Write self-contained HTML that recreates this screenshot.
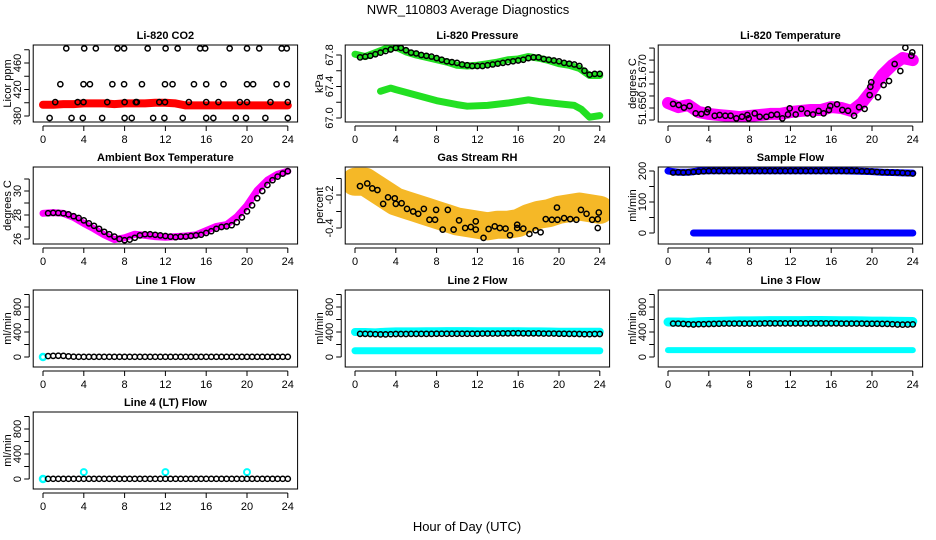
<!DOCTYPE html>
<html><head><meta charset="utf-8">
<style>
html,body{margin:0;padding:0;background:#fff;}
svg{display:block;font-family:"Liberation Sans",sans-serif;}
.tk{font-size:11px;fill:#000;}
.tt{font-size:11px;font-weight:bold;fill:#000;}
</style></head>
<body>
<svg id="chart" width="936" height="540" viewBox="0 0 936 540" xmlns="http://www.w3.org/2000/svg">
<rect width="936" height="540" fill="#fff"/>
<text x="468" y="14" text-anchor="middle" font-size="13">NWR_110803  Average Diagnostics</text>
<text x="467" y="531" text-anchor="middle" font-size="13">Hour of Day (UTC)</text>
</svg>
<script>
// ---------- data ----------
const xTicks=[0,4,8,12,16,20,24];
const hours25=[0,1,2,3,4,5,6,7,8,9,10,11,12,13,14,15,16,17,18,19,20,21,22,23,24];

// CO2
const co2Band=[397,397,398,398,399,399,399,398,399,399,399,400,400,399,396,396,396,396,396,396,396,396,396,396,396];
const co2HighX=[2.28,4.04,5.18,7.3,7.95,10.26,12.02,13.2,15.4,15.9,18.3,20.0,21.2,23.4,23.9];
const co2MidX=[1.7,3.97,4.6,6.8,7.95,9.7,11.96,12.7,14.8,16.0,17.7,20.0,20.6,22.9,23.9];
const co2LowX=[1.2,3.4,3.97,6.3,8.0,9.1,9.2,11.4,11.96,14.3,16.0,17.2,19.3,20.0,22.3,24];
const co2BotX=[0.65,2.8,3.9,5.8,8.0,8.7,10.8,11.9,13.7,16.0,16.7,18.9,19.9,21.8,24];
const co2Levels=[482,428,401,377];

// Pressure
const presUpper=[67.81,67.78,67.83,67.88,67.90,67.84,67.80,67.77,67.74,67.71,67.67,67.66,67.67,67.69,67.71,67.74,67.75,67.78,67.76,67.73,67.69,67.67,67.63,67.54,67.54];
const presLowerX=[2.5,3.5,4,6,8,10,11,13,15,17,18,20,21.5,22.2,23,24];
const presLower=[67.34,67.38,67.36,67.29,67.22,67.17,67.15,67.16,67.19,67.23,67.21,67.18,67.16,67.11,67.01,67.03];
const presPts=[67.77,67.78,67.79,67.81,67.83,67.85,67.87,67.89,67.89,67.86,67.83,67.82,67.80,67.79,67.78,67.76,67.74,67.72,67.71,67.70,67.68,67.67,67.66,67.66,67.66,67.67,67.68,67.69,67.70,67.71,67.72,67.73,67.74,67.76,67.77,67.77,67.75,67.74,67.73,67.72,67.70,67.69,67.68,67.66,67.60,67.55,67.56,67.56];

// Li-820 temperature
const ltBand=[51.6527,51.6505,51.6516,51.6478,51.6468,51.6462,51.6457,51.6451,51.6457,51.6462,51.6468,51.6468,51.6478,51.6484,51.6489,51.6489,51.6505,51.6500,51.6484,51.6527,51.6597,51.6678,51.6732,51.6770,51.6759];
const ltPtsX=[0.5,1.05,1.57,2.12,2.71,3.27,3.82,3.92,4.58,5.06,5.62,6.14,6.70,7.25,7.78,7.91,8.5,8.99,9.64,10.13,10.69,11.21,11.76,11.93,12.52,13.07,13.66,14.22,14.77,15.26,15.78,15.91,16.57,17.09,17.65,18.24,18.73,19.28,19.77,19.84,19.93,20.59,21.14,21.67,22.22,22.78,23.27,23.86,23.95];
const ltPts=[51.6522,51.6516,51.6502,51.6511,51.6471,51.6468,51.6477,51.6493,51.6458,51.6462,51.6458,51.6458,51.6444,51.6453,51.6462,51.6444,51.6471,51.6453,51.6453,51.6462,51.6465,51.6444,51.6465,51.6498,51.6465,51.6495,51.6471,51.6465,51.6484,51.6471,51.6489,51.6511,51.6520,51.6489,51.6485,51.6458,51.6504,51.6495,51.6570,51.6615,51.6639,51.6558,51.6624,51.6646,51.6738,51.6700,51.6826,51.6783,51.6801];

// Ambient box temperature
const ambBand=[28.14,28.2,28.14,27.8,27.3,26.85,26.35,25.95,26.1,26.4,26.3,26.2,26.15,26.2,26.25,26.35,26.7,27.05,27.2,27.85,28.8,30.05,30.9,31.4,31.65];
const ambPts=[28.15,28.18,28.17,28.14,28.05,27.9,27.75,27.55,27.3,27.1,26.85,26.6,26.4,26.2,26.0,25.9,25.95,26.1,26.3,26.4,26.4,26.35,26.3,26.25,26.2,26.15,26.2,26.2,26.25,26.3,26.35,26.5,26.65,26.85,27.0,27.05,27.15,27.4,27.8,28.3,28.8,29.4,30.0,30.5,30.9,31.2,31.45,31.65];

// Gas stream RH
const rhBand=[-0.12,-0.12,-0.16,-0.2,-0.24,-0.26,-0.28,-0.3,-0.32,-0.34,-0.36,-0.37,-0.38,-0.39,-0.38,-0.38,-0.37,-0.34,-0.32,-0.31,-0.29,-0.28,-0.27,-0.28,-0.29];
const rhPtsX=[0.49,1.2,1.69,2.2,2.76,3.24,3.9,4.0,4.57,5.1,5.7,6.2,6.75,7.3,7.85,7.95,8.6,9.1,9.67,10.2,10.8,11.35,11.84,11.84,12.6,13.1,13.7,14.2,14.76,15.2,15.9,15.9,16.5,17.1,17.7,18.2,18.7,19.3,19.8,19.85,20.5,21.1,21.7,22.15,22.7,23.25,23.8,23.9,23.8];
const rhPts=[-0.146,-0.13,-0.16,-0.17,-0.254,-0.214,-0.22,-0.254,-0.25,-0.284,-0.3,-0.314,-0.284,-0.35,-0.35,-0.29,-0.41,-0.29,-0.41,-0.354,-0.4,-0.394,-0.36,-0.41,-0.46,-0.406,-0.39,-0.4,-0.404,-0.444,-0.38,-0.4,-0.404,-0.436,-0.414,-0.426,-0.346,-0.35,-0.276,-0.35,-0.34,-0.346,-0.35,-0.29,-0.314,-0.35,-0.346,-0.306,-0.4];

// Sample flow
const sfBand=[200,196,196,200,201,201,201,201,201,201,201,201,201,201,201,201,201,201,200,199,198,196,195,194,193];
const sfLowX=[2.5,24];
const sfLow=[0,0];
const sfPts=[195,196,195,196,197,198,199,200,200,200,200,200,200,200,200,200,200,200,200,200,200,200,200,200,200,200,200,200,200,200,200,200,200,200,200,200,200,199,199,198,197,196,196,195,195,194,193,192];

// Line flows
const l1Pts=[15,18,20,18,10,5,3,3,3,3,3,3,3,3,3,3,3,3,3,3,3,3,3,3,3,3,3,3,3,3,3,3,3,3,3,3,3,3,3,3,3,3,3,3,3,3,3,3];
const l1Cyan=[0];
const l2Upper=[400,400,395,405,410,410,410,412,412,415,415,415,412,412,412,412,412,410,410,408,405,405,405,405,405];
const l2Lower=[100,100,100,100,100,100,100,100,100,100,100,100,100,100,100,100,100,100,100,100,100,100,100,100,100];
const l2Pts=[370,370,368,365,362,362,365,368,368,368,370,370,370,370,370,372,372,372,372,372,372,372,372,372,375,375,375,375,378,378,380,380,378,378,378,378,375,375,375,372,372,370,370,368,365,365,368,368];
const l3Upper=[560,560,555,565,568,570,575,578,578,580,582,582,582,582,585,585,582,580,580,578,575,575,572,570,568];
const l3Lower=[110,110,110,110,110,110,110,110,110,110,110,110,110,110,110,110,110,110,110,110,110,110,110,110,110];
const l3Pts=[535,535,530,525,520,525,525,528,530,532,535,535,535,535,535,535,535,535,538,538,538,538,538,538,538,538,538,538,538,538,538,538,538,535,535,535,535,535,532,532,532,530,530,525,520,518,520,522];
const l4Pts=[3,3,3,3,3,3,3,3,3,3,3,3,3,3,3,3,3,3,3,3,3,3,3,3,3,3,3,3,3,3,3,3,3,3,3,3,3,3,3,3,3,3,3,3,3,3,3,3];
const l4SpikeX=[4,12,20];
const l4Spike=[110,110,110];

// ---------- drawing ----------
const NS='http://www.w3.org/2000/svg';
const svg=document.getElementById('chart');
const X0=[43,355,668];
const XS=10.2;
const rowTop=[45,167,290,412];
const H=77;
function mk(tag,attrs,parent){const e=document.createElementNS(NS,tag);for(const k in attrs)e.setAttribute(k,attrs[k]);(parent||svg).appendChild(e);return e;}
function halfHourX(i){return 0.5+i*0.5;}

function panel(key,col,row,v0,p0,v1,p1,yTicks,yLabels,title,ylab){
  const g=mk('g',{});
  
  
  const X=h=>X0[col]+h*XS;
  const Y=v=>rowTop[row]+p0+(v-v0)*(p1-p0)/(v1-v0);
  const bx=X(-0.96), bw=X(24.96)-X(-0.96), by=rowTop[row];
  const t=mk('text',{x:bx+bw/2,y:by-6,'text-anchor':'middle','class':'tt'},g);
  t.textContent=title;
  
  
  const yl=mk('text',{x:0,y:0,'text-anchor':'middle','font-size':'11',transform:`translate(${bx-22},${by+H/2}) rotate(-90)`},g);
  yl.textContent=ylab;
  
  
  const plot=mk('g',{},g);
  
  
  const axes=mk('g',{},g);
  
  
  const box=mk('rect',{x:bx,y:by,width:bw,height:H,fill:'none',stroke:'#000','stroke-width':1},axes);
  
  
  mk('line',{x1:X(0),x2:X(24),y1:by+H+4,y2:by+H+4,stroke:'#000'},axes);
  xTicks.forEach(h=>{
    mk('line',{x1:X(h),x2:X(h),y1:by+H+4,y2:by+H+9,stroke:'#000'},axes);
    const tx=mk('text',{x:X(h),y:by+H+21,'text-anchor':'middle','class':'tk'},axes);
    tx.textContent=String(h);
    
    
  });
  const ya=bx-4;
  mk('line',{x1:ya,x2:ya,y1:Y(yTicks[0]),y2:Y(yTicks[yTicks.length-1]),stroke:'#000'},axes);
  yTicks.forEach(v=>{mk('line',{x1:ya-5,x2:ya,y1:Y(v),y2:Y(v),stroke:'#000'},axes);});
  yLabels.forEach(v=>{
    const ty=mk('text',{x:0,y:0,'text-anchor':'middle','class':'tk',transform:`translate(${ya-8},${Y(v)}) rotate(-90)`},axes);
    ty.textContent=(typeof v==='number'&&Math.abs(v)<1&&v!==0)?v.toFixed(1):(v>60&&v<100?v.toFixed(1):(v>51&&v<52?v.toFixed(3):String(v)));
    
    
  });
  const clip='clip-'+key;
  const cp=mk('clipPath',{id:clip},g);
  mk('rect',{x:bx,y:by,width:bw,height:H},cp);
  plot.setAttribute('clip-path',`url(#${clip})`);
  return {X,Y,plot,bx,bw,by};
}
function band(P,xs,vs,color,w,name){
  const pl=mk('polyline',{points:xs.map((h,i)=>P.X(h)+','+P.Y(vs[i])).join(' '),fill:'none',stroke:color,'stroke-width':w,'stroke-linejoin':'round','stroke-linecap':'round'},P.plot);
  
  
  return pl;
}
function pts(P,xs,vs,color,name,sw,r){
  xs.forEach((h,i)=>{
    const c=mk('circle',{cx:P.X(h),cy:P.Y(vs[i]),r:r||2.6,fill:'none',stroke:color,'stroke-width':sw||1.5},P.plot);
    
    
  });
}
const halfX=presPts.map((v,i)=>halfHourX(i));

// CO2
let P=panel('co2',0,0,380,71,460,18,[380,400,420,440,460,480],[380,420,460],'Li-820 CO2','Licor ppm');
band(P,hours25,co2Band,'#ff0000',8,'co2-red-band');
co2Levels.forEach((lv,k)=>{
  const xs=[co2HighX,co2MidX,co2LowX,co2BotX][k];
  pts(P,xs,xs.map(()=>lv),'#000','co2-point');
});
// Pressure
P=panel('pressure',1,0,67.0,73,67.8,10,[67.0,67.2,67.4,67.6,67.8],[67.0,67.4,67.8],'Li-820 Pressure','kPa');
band(P,hours25,presUpper,'#22e022',7,'pressure-upper-band');
band(P,presLowerX,presLower,'#22e022',7,'pressure-lower-band');
pts(P,halfX,presPts,'#000','pressure-point');
// Li temp
P=panel('li-temp',2,0,51.65,63,51.66,44.5,[51.6435,51.65,51.6565,51.663,51.6694,51.6759,51.6824],[51.65,51.67],'Li-820 Temperature','degrees C');
band(P,hours25,ltBand,'#ff00ff',12,'li-temp-band');
pts(P,ltPtsX,ltPts,'#000','li-temp-point');
// Ambient
P=panel('ambient',0,1,26,72,30,24,[26,27,28,29,30,31],[26,28,30],'Ambient Box Temperature','degrees C');
band(P,hours25,ambBand,'#ff00ff',7,'ambient-band');
pts(P,halfX,ambPts,'#000','ambient-point');
// RH
P=panel('rh',1,1,-0.2,28,-0.4,61,[-0.4,-0.3,-0.2,-0.1],[-0.4,-0.2],'Gas Stream RH','percent');
band(P,hours25,rhBand,'#f4b010',28,'rh-band').setAttribute('opacity','0.9');
pts(P,rhPtsX,rhPts,'#000','rh-point');
// Sample flow
P=panel('sample-flow',2,1,0,66,200,4,[0,50,100,150,200],[0,100,200],'Sample Flow','ml/min');
band(P,hours25,sfBand,'#0000ff',7,'sample-flow-band');
band(P,sfLowX,sfLow,'#0000ff',7,'sample-flow-zero-band');
pts(P,halfX,sfPts,'#000','sample-flow-point');
// Line 1
P=panel('line1',0,2,0,67,800,17,[0,200,400,600,800,1000],[0,400,800],'Line 1 Flow','ml/min');
pts(P,[0],l1Cyan,'#00ffff','line1-cyan-point',2.5,3);
pts(P,halfX,l1Pts,'#000','line1-point');
// Line 2
P=panel('line2',1,2,0,67,800,17,[0,200,400,600,800,1000],[0,400,800],'Line 2 Flow','ml/min');
band(P,hours25,l2Upper,'#00ffff',8,'line2-upper-band');
band(P,hours25,l2Lower,'#00ffff',7,'line2-lower-band');
pts(P,halfX,l2Pts,'#000','line2-point');
// Line 3
P=panel('line3',2,2,0,67,800,17,[0,200,400,600,800,1000],[0,400,800],'Line 3 Flow','ml/min');
band(P,hours25,l3Upper,'#00ffff',9,'line3-upper-band');
band(P,hours25,l3Lower,'#00ffff',6,'line3-lower-band');
pts(P,halfX,l3Pts,'#000','line3-point');
// Line 4
P=panel('line4',0,3,0,67,800,17,[0,200,400,600,800,1000],[0,400,800],'Line 4 (LT) Flow','ml/min');
pts(P,[0],l1Cyan,'#00ffff','line4-cyan-point',2.5,3);
pts(P,l4SpikeX,l4Spike,'#00ffff','line4-spike-point',2,3);
pts(P,halfX,l4Pts,'#000','line4-point');
</script>
</body></html>
